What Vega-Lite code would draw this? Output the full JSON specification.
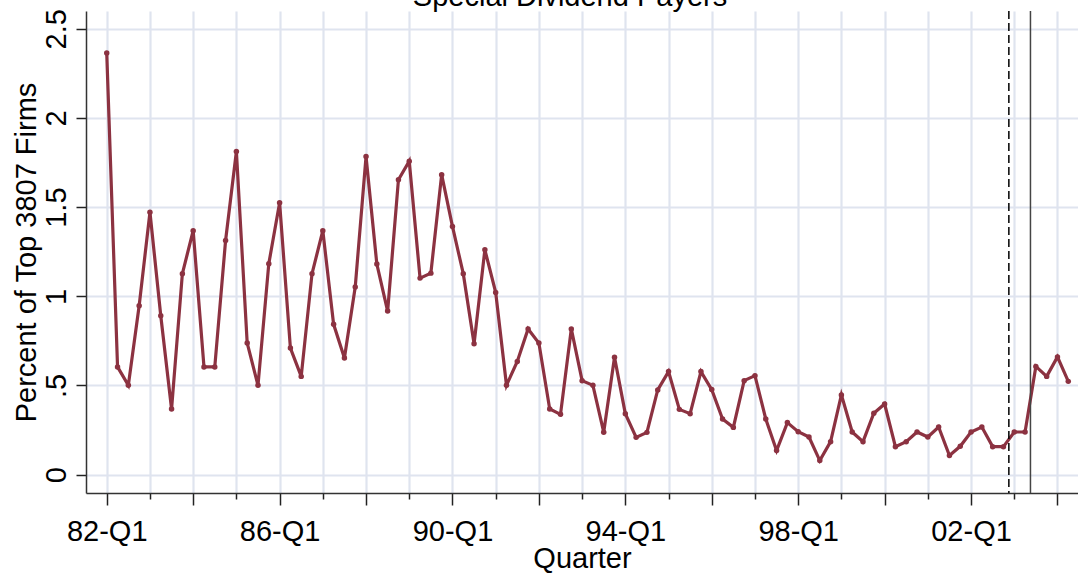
{
  "$schema": "https://vega.github.io/schema/vega-lite/v6.json",
  "width": 992,
  "height": 482,
  "autosize": {"type": "none"},
  "padding": {"left": 86, "top": 11, "right": 0, "bottom": 81},
  "background": "white",
  "title": {
    "text": "Special Dividend Payers",
    "orient": "top",
    "anchor": "middle",
    "frame": "group",
    "baseline": "alphabetic",
    "offset": 0,
    "dx": -12,
    "dy": 26,
    "font": "Liberation Sans",
    "fontSize": 29,
    "fontWeight": "normal",
    "color": "black"
  },
  "config": {
    "view": {"stroke": null},
    "font": "Liberation Sans"
  },
  "datasets": {
    "series": [
      {"q": 0, "quarter": "82-Q1", "pct": 2.364},
      {"q": 1, "quarter": "82-Q2", "pct": 0.604},
      {"q": 2, "quarter": "82-Q3", "pct": 0.501},
      {"q": 3, "quarter": "82-Q4", "pct": 0.947},
      {"q": 4, "quarter": "83-Q1", "pct": 1.472},
      {"q": 5, "quarter": "83-Q2", "pct": 0.891},
      {"q": 6, "quarter": "83-Q3", "pct": 0.368},
      {"q": 7, "quarter": "83-Q4", "pct": 1.127},
      {"q": 8, "quarter": "84-Q1", "pct": 1.368},
      {"q": 9, "quarter": "84-Q2", "pct": 0.604},
      {"q": 10, "quarter": "84-Q3", "pct": 0.604},
      {"q": 11, "quarter": "84-Q4", "pct": 1.313},
      {"q": 12, "quarter": "85-Q1", "pct": 1.812},
      {"q": 13, "quarter": "85-Q2", "pct": 0.738},
      {"q": 14, "quarter": "85-Q3", "pct": 0.501},
      {"q": 15, "quarter": "85-Q4", "pct": 1.183},
      {"q": 16, "quarter": "86-Q1", "pct": 1.525},
      {"q": 17, "quarter": "86-Q2", "pct": 0.710},
      {"q": 18, "quarter": "86-Q3", "pct": 0.551},
      {"q": 19, "quarter": "86-Q4", "pct": 1.127},
      {"q": 20, "quarter": "87-Q1", "pct": 1.368},
      {"q": 21, "quarter": "87-Q2", "pct": 0.843},
      {"q": 22, "quarter": "87-Q3", "pct": 0.654},
      {"q": 23, "quarter": "87-Q4", "pct": 1.052},
      {"q": 24, "quarter": "88-Q1", "pct": 1.784},
      {"q": 25, "quarter": "88-Q2", "pct": 1.181},
      {"q": 26, "quarter": "88-Q3", "pct": 0.917},
      {"q": 27, "quarter": "88-Q4", "pct": 1.654},
      {"q": 28, "quarter": "89-Q1", "pct": 1.758},
      {"q": 29, "quarter": "89-Q2", "pct": 1.102},
      {"q": 30, "quarter": "89-Q3", "pct": 1.130},
      {"q": 31, "quarter": "89-Q4", "pct": 1.682},
      {"q": 32, "quarter": "90-Q1", "pct": 1.392},
      {"q": 33, "quarter": "90-Q2", "pct": 1.127},
      {"q": 34, "quarter": "90-Q3", "pct": 0.734},
      {"q": 35, "quarter": "90-Q4", "pct": 1.261},
      {"q": 36, "quarter": "91-Q1", "pct": 1.022},
      {"q": 37, "quarter": "91-Q2", "pct": 0.501},
      {"q": 38, "quarter": "91-Q3", "pct": 0.635},
      {"q": 39, "quarter": "91-Q4", "pct": 0.817},
      {"q": 40, "quarter": "92-Q1", "pct": 0.738},
      {"q": 41, "quarter": "92-Q2", "pct": 0.368},
      {"q": 42, "quarter": "92-Q3", "pct": 0.338},
      {"q": 43, "quarter": "92-Q4", "pct": 0.817},
      {"q": 44, "quarter": "93-Q1", "pct": 0.527},
      {"q": 45, "quarter": "93-Q2", "pct": 0.501},
      {"q": 46, "quarter": "93-Q3", "pct": 0.238},
      {"q": 47, "quarter": "93-Q4", "pct": 0.658},
      {"q": 48, "quarter": "94-Q1", "pct": 0.342},
      {"q": 49, "quarter": "94-Q2", "pct": 0.209},
      {"q": 50, "quarter": "94-Q3", "pct": 0.237},
      {"q": 51, "quarter": "94-Q4", "pct": 0.475},
      {"q": 52, "quarter": "95-Q1", "pct": 0.578},
      {"q": 53, "quarter": "95-Q2", "pct": 0.366},
      {"q": 54, "quarter": "95-Q3", "pct": 0.342},
      {"q": 55, "quarter": "95-Q4", "pct": 0.578},
      {"q": 56, "quarter": "96-Q1", "pct": 0.477},
      {"q": 57, "quarter": "96-Q2", "pct": 0.312},
      {"q": 58, "quarter": "96-Q3", "pct": 0.265},
      {"q": 59, "quarter": "96-Q4", "pct": 0.527},
      {"q": 60, "quarter": "97-Q1", "pct": 0.555},
      {"q": 61, "quarter": "97-Q2", "pct": 0.312},
      {"q": 62, "quarter": "97-Q3", "pct": 0.135},
      {"q": 63, "quarter": "97-Q4", "pct": 0.292},
      {"q": 64, "quarter": "98-Q1", "pct": 0.241},
      {"q": 65, "quarter": "98-Q2", "pct": 0.211},
      {"q": 66, "quarter": "98-Q3", "pct": 0.079},
      {"q": 67, "quarter": "98-Q4", "pct": 0.185},
      {"q": 68, "quarter": "99-Q1", "pct": 0.447},
      {"q": 69, "quarter": "99-Q2", "pct": 0.239},
      {"q": 70, "quarter": "99-Q3", "pct": 0.185},
      {"q": 71, "quarter": "99-Q4", "pct": 0.344},
      {"q": 72, "quarter": "00-Q1", "pct": 0.396},
      {"q": 73, "quarter": "00-Q2", "pct": 0.157},
      {"q": 74, "quarter": "00-Q3", "pct": 0.185},
      {"q": 75, "quarter": "00-Q4", "pct": 0.239},
      {"q": 76, "quarter": "01-Q1", "pct": 0.211},
      {"q": 77, "quarter": "01-Q2", "pct": 0.267},
      {"q": 78, "quarter": "01-Q3", "pct": 0.107},
      {"q": 79, "quarter": "01-Q4", "pct": 0.159},
      {"q": 80, "quarter": "02-Q1", "pct": 0.239},
      {"q": 81, "quarter": "02-Q2", "pct": 0.267},
      {"q": 82, "quarter": "02-Q3", "pct": 0.157},
      {"q": 83, "quarter": "02-Q4", "pct": 0.157},
      {"q": 84, "quarter": "03-Q1", "pct": 0.239},
      {"q": 85, "quarter": "03-Q2", "pct": 0.239},
      {"q": 86, "quarter": "03-Q3", "pct": 0.607},
      {"q": 87, "quarter": "03-Q4", "pct": 0.551},
      {"q": 88, "quarter": "04-Q1", "pct": 0.660},
      {"q": 89, "quarter": "04-Q2", "pct": 0.523}
    ]
  },
  "layer": [
    {
      "data": {"name": "series"},
      "mark": {
        "type": "line",
        "color": "#8C3241",
        "strokeWidth": 3.2,
        "point": {"filled": true, "color": "#8C3241", "size": 30, "shape": "circle"}
      },
      "encoding": {
        "x": {
          "field": "q",
          "type": "quantitative",
          "scale": {"domain": [-1.92, 89.9], "nice": false, "zero": false},
          "axis": {
            "title": "Quarter",
            "titleFont": "Liberation Sans",
            "titleFontSize": 29,
            "titleFontWeight": "normal",
            "titleColor": "black",
            "titleBaseline": "alphabetic",
            "titleY": 74,
            "values": [0, 4, 8, 12, 16, 20, 24, 28, 32, 36, 40, 44, 48, 52, 56, 60, 64, 68, 72, 76, 80, 84, 88],
            "labelExpr": "datum.value % 16 === 0 ? pad(toString((82 + floor(datum.value / 4)) % 100), 2, '0', 'left') + '-Q1' : ''",
            "labelFont": "Liberation Sans",
            "labelFontSize": 29,
            "labelColor": "black",
            "labelBaseline": "alphabetic",
            "labelPadding": 35,
            "labelOverlap": false,
            "labelFlush": false,
            "tickSize": {"condition": {"test": "datum.value % 8 === 0", "value": 12}, "value": 6},
            "tickColor": "#222222",
            "tickWidth": 1.5,
            "domainColor": "#333333",
            "domainWidth": 1.5,
            "grid": true,
            "gridColor": "#DFE4EF",
            "gridWidth": 2.2
          }
        },
        "y": {
          "field": "pct",
          "type": "quantitative",
          "scale": {"domain": [-0.103, 2.6], "nice": false, "zero": false},
          "axis": {
            "title": "Percent of Top 3807 Firms",
            "titleFont": "Liberation Sans",
            "titleFontSize": 29,
            "titleFontWeight": "normal",
            "titleColor": "black",
            "titleAngle": -90,
            "titleAlign": "center",
            "titleBaseline": "alphabetic",
            "titleX": -51,
            "titleY": 241,
            "values": [0, 0.5, 1, 1.5, 2, 2.5],
            "labelExpr": "datum.value === 0.5 ? '.5' : toString(datum.value)",
            "labelFont": "Liberation Sans",
            "labelFontSize": 29,
            "labelColor": "black",
            "labelAngle": -90,
            "labelAlign": "center",
            "labelBaseline": "alphabetic",
            "labelPadding": 11,
            "labelOverlap": false,
            "labelFlush": false,
            "tickSize": 10,
            "tickColor": "#222222",
            "tickWidth": 1.5,
            "domainColor": "#333333",
            "domainWidth": 1.5,
            "grid": true,
            "gridColor": "#DFE4EF",
            "gridWidth": 2.2
          }
        }
      }
    },
    {
      "data": {"values": [{"q": 83.5}]},
      "mark": {"type": "rule", "color": "black", "strokeWidth": 1.5, "strokeDash": [8, 4]},
      "encoding": {"x": {"field": "q", "type": "quantitative"}}
    },
    {
      "data": {"values": [{"q": 85.5}]},
      "mark": {"type": "rule", "color": "#444444", "strokeWidth": 1.5},
      "encoding": {"x": {"field": "q", "type": "quantitative"}}
    }
  ]
}
